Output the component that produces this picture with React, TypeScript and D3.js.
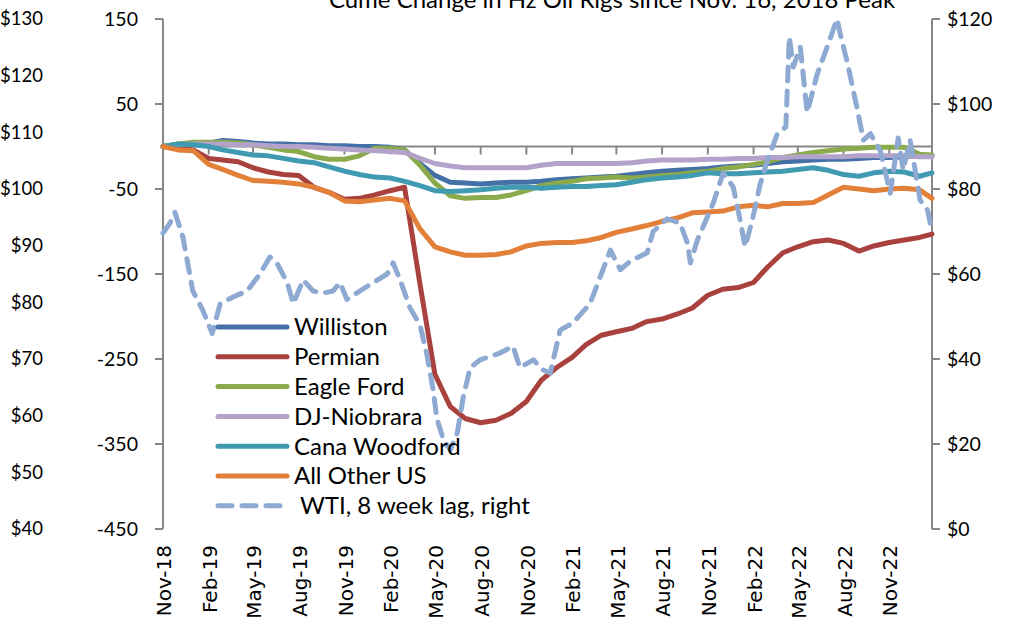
import React from "react";
import * as d3 from "d3";

// ---------- data ----------
const monthDates = [
  "2018-11-16","2018-12-16","2019-01-16","2019-02-16","2019-03-16","2019-04-16","2019-05-16","2019-06-16","2019-07-16","2019-08-16","2019-09-16","2019-10-16",
  "2019-11-16","2019-12-16","2020-01-16","2020-02-16","2020-03-16","2020-04-16","2020-05-16","2020-06-16","2020-07-16","2020-08-16","2020-09-16","2020-10-16",
  "2020-11-16","2020-12-16","2021-01-16","2021-02-16","2021-03-16","2021-04-16","2021-05-16","2021-06-16","2021-07-16","2021-08-16","2021-09-16","2021-10-16",
  "2021-11-16","2021-12-16","2022-01-16","2022-02-16","2022-03-16","2022-04-16","2022-05-16","2022-06-16","2022-07-16","2022-08-16","2022-09-16","2022-10-16",
  "2022-11-16","2022-12-16","2023-01-16","2023-02-10"
];

const williston = [
  0, 2, 3, 4, 7, 6, 4, 3, 3, 2, 2, 1,
  1, 0, 0, -1, -4, -20, -34, -42, -43, -44, -43, -42,
  -42, -41, -39, -38, -37, -36, -35, -33, -31, -29, -28, -27,
  -26, -24, -23, -22, -20, -18, -17, -16, -15, -15, -14, -13,
  -13, -12, -11, -11
];
const permian = [
  0, -2, -4, -14, -16, -18, -25, -30, -33, -34, -48, -54,
  -62, -61, -57, -52, -48, -162, -268, -306, -320, -325, -322, -314,
  -300, -275, -260, -248, -233, -222, -218, -214, -206, -203, -197, -190,
  -175, -168, -166, -160, -142, -125, -118, -112, -110, -114, -123, -117,
  -113, -110, -107, -103
];
const eagleFord = [
  0, 3, 5, 5, 5, 4, 2, -1, -4, -6, -12, -15,
  -15, -11, -2, -2, -4, -22, -43, -58, -61, -60, -60, -57,
  -52, -46, -43, -41, -38, -37, -36, -37, -36, -34, -33, -31,
  -29, -26, -24, -21, -18, -13, -10, -7, -5, -3, -2, -1,
  -1, -1, -9, -10
];
const djNiobrara = [
  0, 2, 3, 3, 3, 2, 2, 1, 0, 0, -1, -2,
  -3, -4, -5, -6, -7, -14, -20, -23, -25, -25, -25, -25,
  -25, -22, -20, -20, -20, -20, -20, -19, -17, -16, -16, -16,
  -15, -15, -14, -14, -13, -13, -12, -12, -12, -12, -11, -11,
  -11, -11, -12, -12
];
const canaWoodford = [
  0, 3, 2, 0, -4, -7, -10, -11, -14, -17, -19, -24,
  -29, -33, -36, -37, -41, -46, -52, -53, -52, -51, -49, -48,
  -48, -49, -48, -47, -47, -46, -45, -42, -39, -37, -36, -34,
  -31, -32, -32, -31, -30, -29, -27, -25, -28, -33, -35, -31,
  -29, -30, -35, -31
];
const allOtherUS = [
  0, -4, -5, -21, -27, -34, -40, -41, -42, -44, -48, -54,
  -64, -65, -63, -61, -64, -97, -118, -124, -128, -128, -127, -124,
  -117, -114, -113, -113, -111, -107, -101, -97, -93, -88, -84, -78,
  -77, -76, -71, -69, -71, -67, -67, -66, -57, -48, -50, -52,
  -50, -49, -51, -61
];

const wtiDates = [
  "2018-11-16","2018-11-30","2018-12-10","2018-12-26","2019-01-15","2019-02-04","2019-02-23","2019-03-11","2019-04-06","2019-05-04",
  "2019-05-30","2019-06-19","2019-07-03","2019-07-24","2019-08-05","2019-08-25","2019-09-14","2019-10-04","2019-10-24","2019-11-07",
  "2019-11-21","2019-12-17","2020-01-13","2020-02-10","2020-02-22","2020-03-07","2020-03-27","2020-04-16","2020-04-30","2020-05-12",
  "2020-05-20","2020-06-02","2020-06-16","2020-06-30","2020-07-12","2020-07-26","2020-08-15","2020-09-24","2020-10-20","2020-11-03",
  "2020-11-30","2020-12-20","2021-01-03","2021-01-23","2021-02-18","2021-03-24","2021-04-19","2021-05-04","2021-05-24","2021-06-13",
  "2021-07-17","2021-07-29","2021-08-26","2021-09-21","2021-10-06","2021-10-12","2021-10-26","2021-11-27","2021-12-17","2022-01-06",
  "2022-01-20","2022-01-30","2022-02-15","2022-03-01","2022-03-16","2022-04-05","2022-04-22","2022-04-29","2022-05-07","2022-05-21",
  "2022-06-04","2022-06-24","2022-07-14","2022-08-03","2022-08-09","2022-08-24","2022-09-13","2022-09-25","2022-10-09","2022-10-29",
  "2022-11-18","2022-12-04","2022-12-14","2022-12-28","2023-01-17","2023-02-01","2023-02-10"
];
const wtiValues = [
  69.6, 72, 74.5, 68.7, 56, 51.5, 46, 53, 54.6, 56,
  60, 64, 62.6, 58, 53, 58.6, 56, 55.5, 56, 58,
  54, 56, 58, 60, 62.6, 58.6, 52, 48, 41, 33,
  26, 21, 18.6, 22.6, 31, 38, 39.8, 41.4, 43, 38,
  39.8, 37.4, 36.7, 46.8, 48.5, 53, 61, 65.6, 61, 63,
  65, 70, 73, 72, 67.3, 62.6, 68, 76.7, 83.8, 80.5,
  72.7, 66.4, 73.4, 81, 86.8, 93, 94.6, 115.8, 108.7, 113.4,
  98, 107, 113.4, 120, 116.7, 109.6, 98.6, 91.5, 93, 89,
  79, 92, 84.5, 91.5, 77.4, 75, 70
];

const seriesNames = ["Williston", "Permian", "Eagle Ford", "DJ-Niobrara", "Cana Woodford", "All Other US"];
const seriesColors = ["#4470A8", "#A9423F", "#8BAA4C", "#B3A2C9", "#3F9AB2", "#E2803A"];
const seriesValues = [williston, permian, eagleFord, djNiobrara, canaWoodford, allOtherUS];
const wtiName = "WTI, 8 week lag, right";
const wtiColor = "#8EAAD3";

const titleText = "Cume Change in Hz Oil Rigs since Nov. 16, 2018 Peak";
const leftTicks = [150, 50, -50, -150, -250, -350, -450];
const rightTicks = [0, 20, 40, 60, 80, 100, 120];
const farLeftTicks = [130, 120, 110, 100, 90, 80, 70, 60, 50, 40];
const xTickDates = [
  "2018-11-16","2019-02-16","2019-05-16","2019-08-16","2019-11-16","2020-02-16","2020-05-16","2020-08-16","2020-11-16",
  "2021-02-16","2021-05-16","2021-08-16","2021-11-16","2022-02-16","2022-05-16","2022-08-16","2022-11-16"
];
const xTickLabels = [
  "Nov-18","Feb-19","May-19","Aug-19","Nov-19","Feb-20","May-20","Aug-20","Nov-20",
  "Feb-21","May-21","Aug-21","Nov-21","Feb-22","May-22","Aug-22","Nov-22"
];

// ---------- layout ----------
const W = 1017, H = 628;
const PL = 163, PR = 932, PT = 19, PB = 529;
const parse = d3.timeParse("%Y-%m-%d");
const FONT = "Lato, 'Open Sans', sans-serif";
const AXIS = "#878787";

export default function App() {
  const x = d3.scaleTime()
    .domain([parse("2018-11-16") as Date, parse("2023-02-10") as Date])
    .range([PL, PR]);
  const yL = d3.scaleLinear().domain([-450, 150]).range([PB, PT]);
  const yR = d3.scaleLinear().domain([0, 120]).range([PB, PT]);
  const yF = d3.scaleLinear().domain([40, 130]).range([PB, PT]);

  const mDates = monthDates.map((d) => parse(d) as Date);
  const line = d3.line<[Date, number]>().x((d) => x(d[0])).y((d) => yL(d[1]));
  const lineR = d3.line<[Date, number]>().x((d) => x(d[0])).y((d) => yR(d[1]));
  const wtiPts: [Date, number][] = wtiDates.map((d, i) => [parse(d) as Date, wtiValues[i]]);

  const y0 = yL(0);
  const legendX1 = 218, legendX2 = 287, legendTextX = 294, legendY0 = 327, legendDY = 29.8;

  return (
    <svg width={W} height={H} style={{ position: "absolute", left: 0, top: 0, background: "#fff" }}>
      <rect x={0} y={0} width={W} height={H} fill="#fff" />
      {/* title (cut at top, as in the reference) */}
      <text x={612} y={8} textAnchor="middle" fontFamily={FONT} fontSize={24} fill="#000">{titleText}</text>

      {/* far-left price labels */}
      {farLeftTicks.map((t) => (
        <text key={"f" + t} x={43} y={yF(t)} dy="0.35em" textAnchor="end" fontFamily={FONT} fontSize={18.5} fill="#000">${t}</text>
      ))}

      {/* left axis */}
      <line x1={PL} x2={PL} y1={PT} y2={PB} stroke={AXIS} strokeWidth={2} />
      {leftTicks.map((t) => (
        <g key={"l" + t}>
          <line x1={PL - 8} x2={PL} y1={yL(t)} y2={yL(t)} stroke={AXIS} strokeWidth={2} />
          <text x={138} y={yL(t)} dy="0.35em" textAnchor="end" fontFamily={FONT} fontSize={19.5} fill="#000">{t}</text>
        </g>
      ))}

      {/* right axis */}
      <line x1={PR} x2={PR} y1={PT} y2={PB} stroke={AXIS} strokeWidth={2} />
      {rightTicks.map((t) => (
        <g key={"r" + t}>
          <line x1={PR} x2={PR + 8} y1={yR(t)} y2={yR(t)} stroke={AXIS} strokeWidth={2} />
          <text x={947} y={yR(t)} dy="0.35em" textAnchor="start" fontFamily={FONT} fontSize={19.5} fill="#000">${t}</text>
        </g>
      ))}

      {/* x axis at zero */}
      <line x1={PL} x2={PR} y1={y0} y2={y0} stroke={AXIS} strokeWidth={2} />
      {xTickDates.map((d, i) => {
        const xx = x(parse(d) as Date);
        return (
          <g key={"x" + d}>
            <line x1={xx} x2={xx} y1={y0} y2={y0 + 8} stroke={AXIS} strokeWidth={2} />
            <text transform={`translate(${xx + 1},545) rotate(-90)`} dy="0.36em" textAnchor="end"
              fontFamily="'DejaVu Sans', Verdana, sans-serif" fontSize={20} fill="#000">{xTickLabels[i]}</text>
          </g>
        );
      })}

      {/* series */}
      {seriesValues.map((vals, si) => (
        <path key={seriesNames[si]} d={line(mDates.map((d, i) => [d, vals[i]] as [Date, number])) || ""}
          fill="none" stroke={seriesColors[si]} strokeWidth={5} strokeLinejoin="round" strokeLinecap="round" />
      ))}
      <path d={lineR(wtiPts) || ""} fill="none" stroke={wtiColor} strokeWidth={5}
        strokeDasharray="14 10" strokeLinecap="round" strokeLinejoin="round" />

      {/* legend */}
      {seriesNames.map((n, i) => (
        <g key={"lg" + n}>
          <line x1={legendX1} x2={legendX2} y1={legendY0 + i * legendDY} y2={legendY0 + i * legendDY}
            stroke={seriesColors[i]} strokeWidth={5} strokeLinecap="round" />
          <text x={legendTextX} y={legendY0 + i * legendDY} dy="0.35em" fontFamily={FONT} fontSize={24} fill="#000">{n}</text>
        </g>
      ))}
      <line x1={legendX1} x2={legendX2} y1={legendY0 + 6 * legendDY} y2={legendY0 + 6 * legendDY}
        stroke={wtiColor} strokeWidth={5} strokeLinecap="round" strokeDasharray="14 10" />
      <text x={legendTextX + 6} y={legendY0 + 6 * legendDY} dy="0.35em" fontFamily={FONT} fontSize={24} fill="#000">{wtiName}</text>
    </svg>
  );
}
